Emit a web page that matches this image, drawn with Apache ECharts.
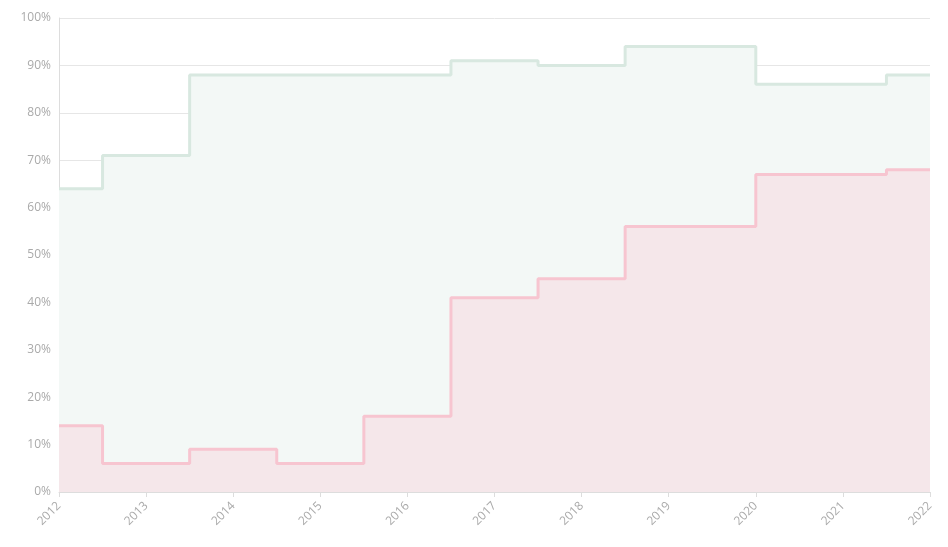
<!DOCTYPE html>
<html><head><meta charset="utf-8">
<script src="https://cdn.jsdelivr.net/npm/echarts@6/dist/echarts.min.js"></script>
<style>html,body{margin:0;padding:0;background:#fff}#c{width:948px;height:547px}</style>
</head><body><div id="c"></div>
<script>
const years = ['2012','2013','2014','2015','2016','2017','2018','2019','2020','2021','2022'];
const greenValues = [64,71,88,88,88,91,90,94,null,86,88];
const redValues = [14,6,9,6,16,41,45,56,null,67,68];

const chart = echarts.init(document.getElementById('c'));
function mk(name, data, line, area, labelBg) {
  return {
    name, type: 'line', data, step: 'middle', connectNulls: true,
    symbol: 'circle', symbolSize: 0.1, showSymbol: true,
    itemStyle: {color: line, opacity: 0},
    lineStyle: {color: line, width: 3},
    areaStyle: {color: area, opacity: 1},
    label: {show: true, position: 'inside', formatter: '{c}%', color: '#111', fontWeight: 'bold',
      fontSize: 12, fontFamily: 'DejaVu Sans', backgroundColor: labelBg, padding: [1, 2]},
    emphasis: {disabled: true}
  };
}
chart.setOption({
  animation: false,
  grid: {left: 59, right: 18, top: 18, bottom: 55},
  xAxis: {type: 'category', data: years, boundaryGap: false,
    axisLine: {lineStyle: {color: '#ddd'}}, axisTick: {show: true, lineStyle: {color: '#ddd'}},
    axisLabel: {rotate: 45, margin: 12, color: '#aaa', fontSize: 12, fontFamily: 'Open Sans'}},
  yAxis: {type: 'value', min: 0, max: 100, interval: 10,
    axisLabel: {formatter: '{value}%', color: '#aaa', fontSize: 12, fontFamily: 'Open Sans'},
    axisLine: {show: true, lineStyle: {color: '#ddd'}},
    splitLine: {lineStyle: {color: '#e6e6e6'}}},
  series: [
    mk('A', greenValues, '#d8e8e0', '#f3f8f6', '#d6e9de'),
    mk('B', redValues, '#f7c5d0', '#f5e7ea', '#f7ccd5')
  ]
});
</script></body></html>
